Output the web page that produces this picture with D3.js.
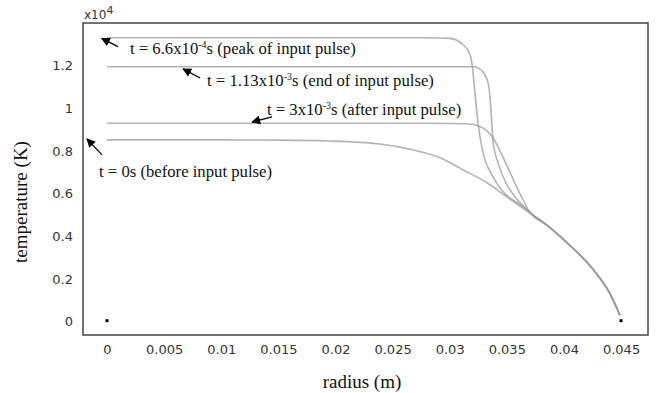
<!DOCTYPE html>
<html>
<head>
<meta charset="utf-8">
<script src="https://cdn.jsdelivr.net/npm/d3@7"></script>
<style>
  body { margin: 0; background: #fff; }
  svg { display: block; }
</style>
</head>
<body>
<svg id="chart" width="657" height="393"></svg>
<script>
// radius ticks (m) and temperature ticks (x10^4 K)
const radiusTicks = [0, 0.005, 0.01, 0.015, 0.02, 0.025, 0.03, 0.035, 0.04, 0.045];
const tempTicks = [0, 0.2, 0.4, 0.6, 0.8, 1, 1.2];

// t = 0s (before input pulse)
const r0 = [0, 0.005, 0.01, 0.015, 0.0195, 0.0239, 0.0268, 0.0292, 0.0312, 0.0333, 0.035, 0.037, 0.0385, 0.0403, 0.0426, 0.044, 0.0447, 0.0449];
const T0 = [0.852, 0.852, 0.852, 0.851, 0.847, 0.833, 0.805, 0.767, 0.711, 0.65, 0.585, 0.51, 0.453, 0.369, 0.242, 0.135, 0.055, 0.03];

// t = 6.6e-4 s (peak of input pulse)
const r1 = [0, 0.01, 0.02, 0.028, 0.03, 0.0312, 0.0318, 0.032, 0.0322, 0.0325, 0.0329, 0.0337, 0.0347, 0.0362, 0.0373, 0.0385, 0.0403, 0.0426, 0.044, 0.0447, 0.0449];
const T1 = [1.331, 1.331, 1.331, 1.331, 1.328, 1.297, 1.25, 1.189, 1.078, 0.922, 0.796, 0.688, 0.608, 0.547, 0.5, 0.453, 0.369, 0.242, 0.135, 0.055, 0.03];

// t = 1.13e-3 s (end of input pulse)
const r2 = [0, 0.01, 0.02, 0.03, 0.0321, 0.0329, 0.0334, 0.0336, 0.0338, 0.0343, 0.035, 0.0356, 0.0373, 0.0385, 0.0403, 0.0426, 0.044, 0.0447, 0.0449];
const T2 = [1.195, 1.195, 1.195, 1.195, 1.195, 1.172, 1.11, 1.002, 0.843, 0.735, 0.642, 0.594, 0.5, 0.453, 0.369, 0.242, 0.135, 0.055, 0.03];

// t = 3e-3 s (after input pulse)
const r3 = [0, 0.01, 0.02, 0.028, 0.0315, 0.0327, 0.0338, 0.0347, 0.0355, 0.0362, 0.037, 0.0385, 0.0403, 0.0426, 0.044, 0.0447, 0.0449];
const T3 = [0.93, 0.93, 0.93, 0.93, 0.928, 0.914, 0.861, 0.767, 0.674, 0.594, 0.514, 0.453, 0.369, 0.242, 0.135, 0.055, 0.03];

// boundary markers
const markR = [0, 0.045];
const markT = [0, 0];

// annotations: arrow tip, arrow tail, label start (data units)
const notes = [
  { tip: [-0.00046, 1.328], tail: [0.00096, 1.289], at: [0.00201, 1.283], pre: 't = 6.6x10', sup: '-4', post: 's (peak of input pulse)' },
  { tip: [0.00666, 1.185], tail: [0.00815, 1.142], at: [0.00876, 1.133], pre: 't = 1.13x10', sup: '-3', post: 's (end of input pulse)' },
  { tip: [0.0127, 0.936], tail: [0.01445, 0.96], at: [0.014, 0.997], pre: 't = 3x10', sup: '-3', post: 's (after input pulse)' },
  { tip: [-0.00175, 0.857], tail: [-0.00044, 0.782], at: [-0.0007, 0.706], pre: 't = 0s (before input pulse)', sup: '', post: '' }
];

const svg = d3.select('#chart');
const margin = { top: 23, right: 9, bottom: 58, left: 83 };
const width = 657, height = 393;

const x = d3.scaleLinear()
  .domain([-0.0021, 0.04736])
  .range([margin.left, width - margin.right]);

const y = d3.scaleLinear()
  .domain([-0.0623, 1.4])
  .range([height - margin.bottom, margin.top]);

// axes (no tick marks, only labels)
const xAxis = d3.axisBottom(x)
  .tickValues(radiusTicks)
  .tickSize(0)
  .tickPadding(10)
  .tickFormat(d => String(d));

const yAxis = d3.axisLeft(y)
  .tickValues(tempTicks)
  .tickSize(0)
  .tickPadding(10)
  .tickFormat(d => String(d));

const gx = svg.append('g')
  .attr('transform', `translate(0,${height - margin.bottom})`)
  .call(xAxis);
const gy = svg.append('g')
  .attr('transform', `translate(${margin.left},0)`)
  .call(yAxis);

[gx, gy].forEach(g => {
  g.select('.domain').remove();
  g.selectAll('text')
    .attr('font-family', 'DejaVu Sans, Verdana, sans-serif')
    .attr('font-size', 13)
    .attr('fill', '#333');
});

// frame
svg.append('rect')
  .attr('x', margin.left)
  .attr('y', margin.top)
  .attr('width', width - margin.left - margin.right)
  .attr('height', height - margin.top - margin.bottom)
  .attr('fill', 'none')
  .attr('stroke', '#444')
  .attr('stroke-width', 1.5);

// x10^4 multiplier
const mult = svg.append('text')
  .attr('x', margin.left + 1)
  .attr('y', margin.top - 4)
  .attr('font-family', 'DejaVu Sans, Verdana, sans-serif')
  .attr('font-size', 12)
  .attr('fill', '#333')
  .text('x10');
mult.append('tspan')
  .attr('dy', -5)
  .attr('font-size', 11)
  .text('4');

// curves
const series = [[r0, T0], [r1, T1], [r2, T2], [r3, T3]];
const line = d3.line()
  .x(d => x(d[0]))
  .y(d => y(d[1]))
  .curve(d3.curveMonotoneX);

svg.append('g')
  .selectAll('path')
  .data(series)
  .join('path')
  .attr('d', ([rs, ts]) => line(rs.map((r, i) => [r, ts[i]])))
  .attr('fill', 'none')
  .attr('stroke', '#9a9a9a')
  .attr('stroke-opacity', 0.75)
  .attr('stroke-width', 1.6);

// boundary points
svg.append('g')
  .selectAll('rect')
  .data(markR)
  .join('rect')
  .attr('x', d => x(d) - 1.5)
  .attr('y', (d, i) => y(markT[i]) - 2.5)
  .attr('width', 3)
  .attr('height', 3)
  .attr('fill', '#000');

// annotations
svg.append('defs').append('marker')
  .attr('id', 'head')
  .attr('viewBox', '0 0 10 10')
  .attr('refX', 9)
  .attr('refY', 5)
  .attr('markerWidth', 9)
  .attr('markerHeight', 9)
  .attr('markerUnits', 'userSpaceOnUse')
  .attr('orient', 'auto')
  .append('path')
  .attr('d', 'M0,0L10,5L0,10z')
  .attr('fill', '#000');

const ann = svg.append('g');
notes.forEach(n => {
  ann.append('line')
    .attr('x1', x(n.tail[0]))
    .attr('y1', y(n.tail[1]))
    .attr('x2', x(n.tip[0]))
    .attr('y2', y(n.tip[1]))
    .attr('stroke', '#000')
    .attr('stroke-width', 1.3)
    .attr('marker-end', 'url(#head)');

  const t = ann.append('text')
    .attr('x', x(n.at[0]))
    .attr('y', y(n.at[1]))
    .attr('dy', '0.35em')
    .attr('font-family', 'Liberation Serif, Times New Roman, serif')
    .attr('font-size', 16.7)
    .attr('fill', '#111')
    .text(n.pre);
  if (n.sup) {
    t.append('tspan').attr('dy', -6).attr('font-size', 10).text(n.sup);
    t.append('tspan').attr('dy', 6).text(n.post);
  }
});

// axis titles
svg.append('text')
  .attr('x', 362)
  .attr('y', 388)
  .attr('text-anchor', 'middle')
  .attr('font-family', 'Liberation Serif, Times New Roman, serif')
  .attr('font-size', 19)
  .attr('fill', '#111')
  .text('radius (m)');

svg.append('text')
  .attr('transform', `translate(27,202) rotate(-90)`)
  .attr('text-anchor', 'middle')
  .attr('font-family', 'Liberation Serif, Times New Roman, serif')
  .attr('font-size', 19)
  .attr('fill', '#111')
  .text('temperature (K)');
</script>
</body>
</html>
